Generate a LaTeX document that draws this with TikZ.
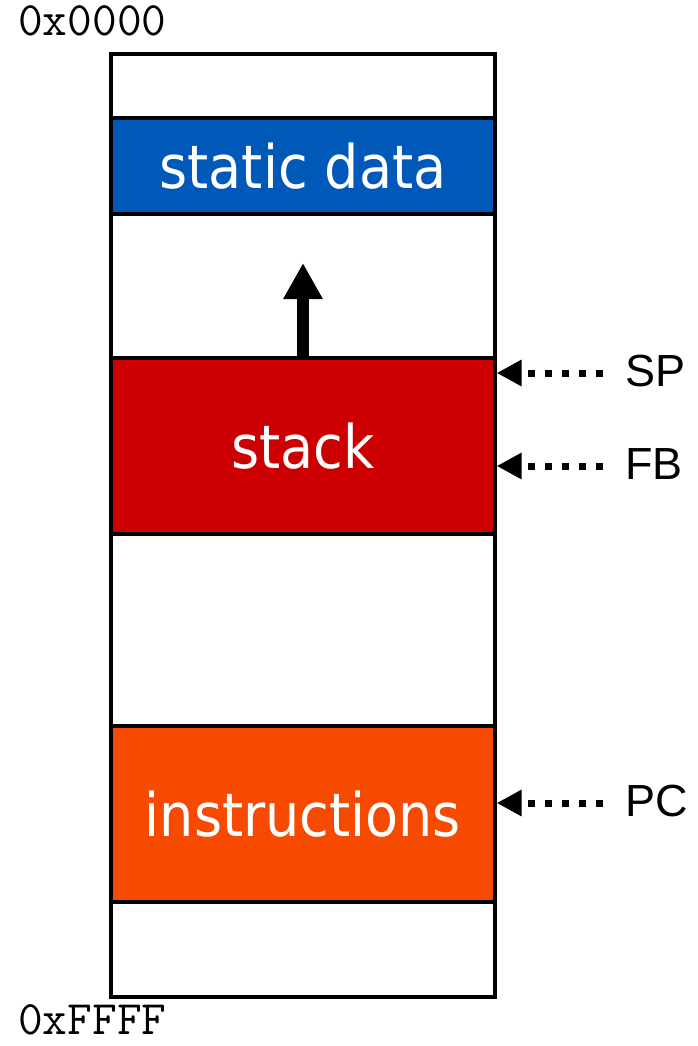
\documentclass[tikz,border=0pt]{standalone}
\usepackage{fontspec}
\usetikzlibrary{arrows.meta}
\newfontfamily\boxfont{DejaVu Sans Condensed}
\newfontfamily\labfont{Liberation Sans}
\definecolor{segblue}{RGB}{0,88,184}
\definecolor{segred}{RGB}{204,0,0}
\definecolor{segorange}{RGB}{246,74,0}
\begin{document}
\begin{tikzpicture}[x=1pt,y=-1pt,
  seg/.style={draw=black,line width=3.3pt,minimum width=384pt,inner sep=0pt,text=white,
    font=\boxfont\fontsize{60}{72}\selectfont},
  addr/.style={font=\ttfamily\fontsize{48}{56}\selectfont,inner sep=0pt,anchor=base west},
  reg/.style={font=\labfont\fontsize{45}{54}\selectfont,inner sep=0pt,anchor=base west},
  ptr/.style={line width=7pt,dash pattern=on 7pt off 10pt,
    -{Triangle[length=25pt,width=25pt,sep=0pt]}},
  growarrow/.style={line width=12pt,-{Triangle[length=36pt,width=37pt]}}]
\useasboundingbox (0,0) rectangle (697,1046);
\node[draw=black,line width=3.3pt,minimum width=384pt,minimum height=943pt,inner sep=0pt] (mem) at (303,525.5) {};
\node[seg,fill=segblue,minimum height=96pt] (static) at (303,166) {static data};
\node[seg,fill=segred,minimum height=176pt] (stack) at (303,446) {stack};
\node[seg,fill=segorange,minimum height=176pt] (instr) at (303,814) {instructions};
\node[addr] (top) at (18,36) {0x0000};
\node[addr] (bot) at (18,1034) {0xFFFF};
\node[reg] (sp) at (625,386) {SP};
\node[reg] (fb) at (625,479) {FB};
\node[reg] (pc) at (625,816) {PC};
\coordinate (spe) at (603,373);
\coordinate (fbe) at (603,466);
\coordinate (pce) at (603,803);
\coordinate (up) at (303,263);
\draw[ptr] (spe) -- (spe -| mem.east);
\draw[ptr] (fbe) -- (fbe -| mem.east);
\draw[ptr] (pce) -- (pce -| mem.east);
\draw[growarrow] (stack.north) -- (up);
\end{tikzpicture}
\end{document}
